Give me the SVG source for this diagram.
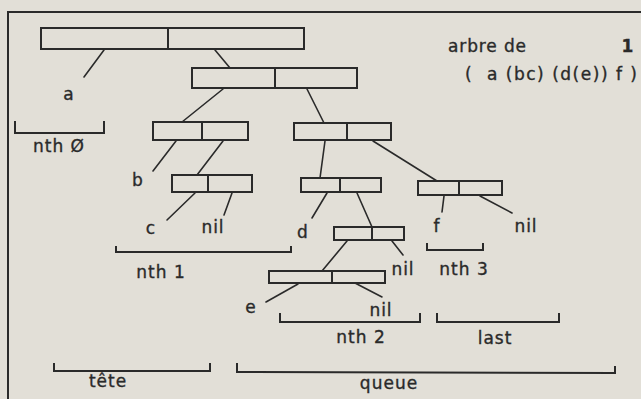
<svg xmlns="http://www.w3.org/2000/svg" width="641" height="399" viewBox="0 0 641 399">
<style>
.bg{fill:#e2dfd7}
.box{fill:none;stroke:#2a2a2a;stroke-width:2}
.ln{fill:none;stroke:#2a2a2a;stroke-width:1.6;stroke-linecap:round}
.br{fill:none;stroke:#2a2a2a;stroke-width:2}
text{font-family:"DejaVu Sans","Liberation Sans",sans-serif;font-size:17px;fill:#2a2a2a;stroke:#2a2a2a;stroke-width:0.35;letter-spacing:1px}
.m{text-anchor:middle}
</style>
<rect class="bg" x="0" y="0" width="641" height="399"/>
<path class="br" d="M8,400 V12 H645"/>
<g id="box1"><rect class="box" x="41" y="28" width="263" height="21"/><line class="box" x1="168" y1="28" x2="168" y2="49"/></g>
<g id="box2"><rect class="box" x="192" y="68" width="165" height="20"/><line class="box" x1="275" y1="68" x2="275" y2="88"/></g>
<g id="box3"><rect class="box" x="153" y="122" width="95" height="18"/><line class="box" x1="202" y1="122" x2="202" y2="140"/></g>
<g id="box4"><rect class="box" x="294" y="123" width="97" height="17"/><line class="box" x1="347" y1="123" x2="347" y2="140"/></g>
<g id="box5"><rect class="box" x="172" y="175" width="80" height="17"/><line class="box" x1="208" y1="175" x2="208" y2="192"/></g>
<g id="box6"><rect class="box" x="301" y="178" width="80" height="14"/><line class="box" x1="340" y1="178" x2="340" y2="192"/></g>
<g id="box7"><rect class="box" x="418" y="181" width="84" height="14"/><line class="box" x1="459" y1="181" x2="459" y2="195"/></g>
<g id="box8"><rect class="box" x="334" y="227" width="70" height="13"/><line class="box" x1="372" y1="227" x2="372" y2="240"/></g>
<g id="box9"><rect class="box" x="269" y="271" width="116" height="12"/><line class="box" x1="332" y1="271" x2="332" y2="283"/></g>
<g id="connectors">
<line class="ln" x1="104" y1="50" x2="84" y2="77"/>
<line class="ln" x1="215" y1="50" x2="230" y2="68"/>
<line class="ln" x1="223" y1="89" x2="182" y2="122"/>
<line class="ln" x1="307" y1="89" x2="324" y2="123"/>
<line class="ln" x1="176" y1="141" x2="153" y2="171"/>
<line class="ln" x1="223" y1="141" x2="197" y2="175"/>
<line class="ln" x1="195" y1="193" x2="167" y2="220"/>
<line class="ln" x1="232" y1="193" x2="224" y2="215"/>
<line class="ln" x1="325" y1="141" x2="320" y2="178"/>
<line class="ln" x1="373" y1="141" x2="437" y2="181"/>
<line class="ln" x1="327" y1="193" x2="312" y2="218"/>
<line class="ln" x1="357" y1="193" x2="372" y2="227"/>
<line class="ln" x1="444" y1="196" x2="442" y2="212"/>
<line class="ln" x1="480" y1="196" x2="512" y2="213"/>
<line class="ln" x1="347" y1="241" x2="322" y2="271"/>
<line class="ln" x1="392" y1="241" x2="403" y2="255"/>
<line class="ln" x1="298" y1="284" x2="266" y2="302"/>
<line class="ln" x1="355" y1="283" x2="382" y2="297"/>
</g>
<g id="brackets">
<path class="br" d="M15,121 V133 H104 V121"/>
<path class="br" d="M116,246 V252 H291 V246"/>
<path class="br" d="M427,243 V250 H483 V243"/>
<path class="br" d="M280,313 V322 H420 V313"/>
<path class="br" d="M437,313 V322 H559 V313"/>
<path class="br" d="M54,363 V371 H210 V363"/>
<path class="br" d="M237,363 V372 L615,373 V366"/>
</g>
<g id="labels">
<text class="m" x="69" y="100">a</text>
<text class="m" x="59" y="152">nth Ø</text>
<text class="m" x="138" y="186">b</text>
<text class="m" x="151" y="234">c</text>
<text class="m" x="213" y="233">nil</text>
<text class="m" x="303" y="238">d</text>
<text class="m" x="161" y="278">nth 1</text>
<text class="m" x="437" y="232">f</text>
<text class="m" x="526" y="232">nil</text>
<text class="m" x="403" y="275">nil</text>
<text class="m" x="464" y="275">nth 3</text>
<text class="m" x="251" y="313">e</text>
<text class="m" x="381" y="316">nil</text>
<text class="m" x="361" y="343">nth 2</text>
<text class="m" x="495" y="344">last</text>
<text class="m" x="108" y="387">tête</text>
<text class="m" x="389" y="389">queue</text>
</g>
<g id="title">
<text x="448" y="52" textLength="79" lengthAdjust="spacing">arbre de</text>
<text class="m" x="628" y="52" style="font-weight:bold">1</text>
<text x="465" y="80" textLength="173" lengthAdjust="spacing" xml:space="preserve">(  a (bc) (d(e)) f )</text>
</g>
</svg>
